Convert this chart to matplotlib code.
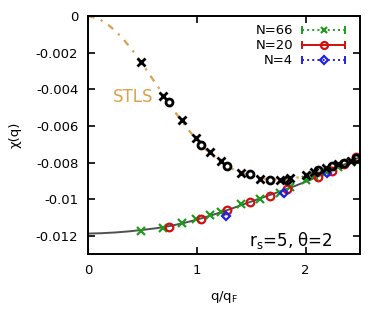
import matplotlib
matplotlib.use("Agg")
import matplotlib.pyplot as plt

# ---------- data ----------
# STLS curve (dash-dot, orange)
q_stls = [0.0, 0.1, 0.2, 0.3, 0.4, 0.5, 0.6, 0.7, 0.8, 0.9, 1.0, 1.1, 1.2,
          1.3, 1.4, 1.5, 1.6, 1.7, 1.8, 1.9, 2.0, 2.1, 2.2, 2.3, 2.4, 2.5]
chi_stls = [0.0, -0.00015, -0.00055, -0.00110, -0.00180, -0.00262, -0.00350,
            -0.00437, -0.00525, -0.00605, -0.00678, -0.00738, -0.00788,
            -0.00827, -0.00855, -0.00875, -0.00887, -0.00892, -0.00891,
            -0.00885, -0.00872, -0.00855, -0.00835, -0.00815, -0.00795, -0.00775]

# lower solid curve (dark grey)
q_fit = [0.0, 0.125, 0.25, 0.375, 0.5, 0.625, 0.75, 0.875, 1.0, 1.125, 1.25,
         1.375, 1.5, 1.625, 1.75, 1.875, 2.0, 2.125, 2.25, 2.375, 2.5]
chi_fit = [-0.01188, -0.01186, -0.01182, -0.01176, -0.01168, -0.01159,
           -0.01147, -0.01131, -0.01112, -0.01090, -0.01066, -0.01040,
           -0.01013, -0.00987, -0.00961, -0.00934, -0.00905, -0.00873,
           -0.00840, -0.00805, -0.00770]

# N=66 (crosses)
q66 = [0.49, 0.69, 0.86, 0.99, 1.12, 1.22, 1.41, 1.58, 1.76, 1.86, 2.00,
       2.08, 2.19, 2.30, 2.42]
chi66 = [-0.01172, -0.01156, -0.01129, -0.01106, -0.01087, -0.01068, -0.01027,
         -0.01001, -0.00968, -0.00934, -0.00898, -0.00876, -0.00852, -0.00822,
         -0.00795]
chi66_up = [-0.00253, -0.00437, -0.00568, -0.00668, -0.00745, -0.00794,
            -0.00856, -0.00890, -0.00893, -0.00887, -0.00869, -0.00854,
            -0.00832, -0.00810, -0.00792]

# N=20 (circles)
q20 = [0.74, 1.04, 1.28, 1.49, 1.67, 1.83, 2.11, 2.24, 2.35, 2.46]
chi20 = [-0.01151, -0.01110, -0.01060, -0.01015, -0.00984, -0.00945,
         -0.00881, -0.00845, -0.00810, -0.00772]
chi20_up = [-0.00468, -0.00705, -0.00820, -0.00865, -0.00896, -0.00893,
            -0.00842, -0.00820, -0.00805, -0.00778]

# N=4 (diamonds)
q4 = [1.27, 1.80, 2.20]
chi4 = [-0.01090, -0.00969, -0.00860]

labels = ["N=66", "N=20", "N=4"]
xticks = [0, 1, 2]
yticks = [0, -0.002, -0.004, -0.006, -0.008, -0.01, -0.012]

# ---------- plot ----------
green = "#1f9a1f"
red = "#d01010"
blue = "#2020e8"
orange = "#dba04a"

fig = plt.figure(figsize=(3.86, 3.2), dpi=100)
ax = fig.add_axes([0.228, 0.206, 0.705, 0.744])

ax.plot(q_stls, chi_stls, color=orange, lw=1.6, dashes=(3, 3, 1, 3))
ax.plot(q_fit, chi_fit, color="#505050", lw=1.4)

ax.plot(q66, chi66, ls="none", marker="x", ms=5.5, mew=1.6, color=green)
ax.plot(q20, chi20, ls="none", marker="o", ms=5.5, mew=1.6, mfc="none", color=red)
ax.plot(q4, chi4, ls="none", marker="D", ms=4.5, mew=1.6, mfc="none", color=blue)

ax.plot(q66, chi66_up, ls="none", marker="x", ms=5.5, mew=2.0, color="black")
ax.plot(q20, chi20_up, ls="none", marker="o", ms=5, mew=2.0, mfc="none", color="black")

# legend drawn by hand (gnuplot errorbar style samples)
styles = [(green, ":", "x", "none"), (red, "-", "o", "none"), (blue, ":", "D", "none")]
rows = [0.941, 0.878, 0.815]
for lab, (c, ls, m, mfc), yy in zip(labels, styles, rows):
    ax.text(0.754, yy, lab, transform=ax.transAxes, ha="right", va="center",
            fontsize=9.5)
    ax.plot([0.785, 0.943], [yy, yy], transform=ax.transAxes, color=c, ls=ls,
            lw=1.4, clip_on=False)
    ax.plot([0.785, 0.943], [yy, yy], transform=ax.transAxes, ls="none",
            marker="|", ms=6, mew=1.4, color=c, clip_on=False)
    ax.plot([0.866], [yy], transform=ax.transAxes, ls="none", marker=m,
            ms=5 if m != "D" else 4, mew=1.6, mfc=mfc, color=c, clip_on=False)

ax.text(0.167, 0.66, "STLS", transform=ax.transAxes, ha="center", va="center",
        fontsize=12, color=orange)
ax.text(0.90, 0.055, r"r$_{\rm s}$=5, θ=2", transform=ax.transAxes,
        ha="right", va="center", fontsize=12)

ax.set_xlim(0, 2.5)
ax.set_ylim(-0.013, 0)
ax.set_xticks(xticks)
ax.set_xticklabels([str(t) for t in xticks])
ax.set_yticks(yticks)
ax.set_yticklabels(["0" if t == 0 else f"{t:g}" for t in yticks])
ax.tick_params(direction="in", top=True, right=True, length=5, width=1.2,
               labelsize=9.5, pad=7)
for sp in ax.spines.values():
    sp.set_linewidth(1.4)

ax.set_xlabel(r"q/q$_{\rm F}$", fontsize=9.5, labelpad=9)
ax.set_ylabel("χ(q)", fontsize=9.5, labelpad=10)

fig.savefig("out.png", dpi=100)
